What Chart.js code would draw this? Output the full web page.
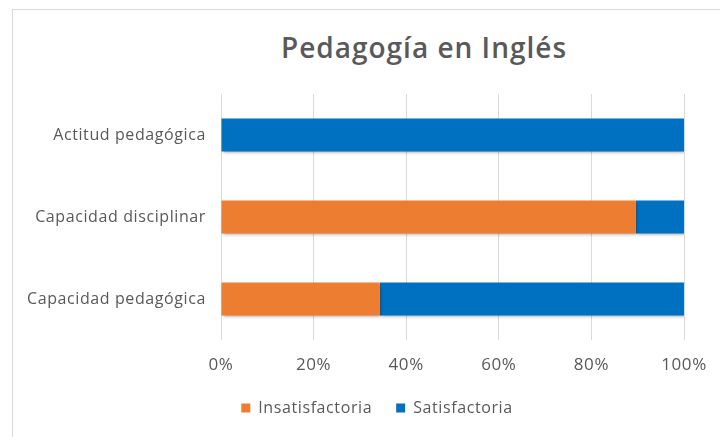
<!DOCTYPE html>
<html>
<head>
<meta charset="utf-8">
<script src="https://cdn.jsdelivr.net/npm/chart.js@4.4.1/dist/chart.umd.min.js"></script>
<style>
  html, body { margin: 0; padding: 0; background: #fff; }
  #wrap { position: relative; width: 720px; height: 437px; overflow: hidden; }
  #frame { position: absolute; left: 12px; top: 9px; width: 800px; height: 500px;
           border-left: 1px solid #d9d9d9; border-top: 1px solid #d9d9d9; }
  #title { position: absolute; left: 224px; top: 31px; width: 400px; text-align: center;
           font: 600 28px/32px "Open Sans", sans-serif; letter-spacing: 1px; color: #595959; }
  canvas { position: absolute; left: 0; top: 0; }
</style>
</head>
<body>
<div id="wrap">
  <div id="frame"></div>
  <div id="title">Pedagogía en Inglés</div>
  <canvas id="chart" width="720" height="437"></canvas>
</div>
<script>
const categories = ['Actitud pedagógica', 'Capacidad disciplinar', 'Capacidad pedagógica']
const insatisfactoria = [0, 89.6, 34.3]
const satisfactoria = [100, 10.4, 65.7]
const xTicks = [0, 20, 40, 60, 80, 100]

const gray = '#595959'
const font = '"Open Sans", sans-serif'

// soft drop shadow under the bars, like the Excel one
const barShadow = {
    id: 'barShadow',
    beforeDatasetsDraw (chart) {
        const ctx = chart.ctx
        ctx.save()
        ctx.shadowColor = 'rgba(0,0,0,0.35)'
        ctx.shadowBlur = 3
        ctx.shadowOffsetX = 1
        ctx.shadowOffsetY = 2
    },
    afterDatasetsDraw (chart) {
        chart.ctx.restore()
    }
}

// wider letters like the original, and legend centred on the whole frame
const textTweaks = {
    id: 'textTweaks',
    beforeUpdate (chart) { chart.ctx.letterSpacing = '0.6px' },
    beforeDraw (chart) { chart.ctx.letterSpacing = '0.6px' },
    afterLayout (chart) {
        chart.legend.left += 29
        chart.legend.right += 29
    }
}

const crt = document.getElementById('chart')

new Chart(crt, {
    type: 'bar',
    data: {
        labels: categories,
        datasets: [
            {
                label: 'Insatisfactoria',
                data: insatisfactoria,
                backgroundColor: '#ED7D31'
            },
            {
                label: 'Satisfactoria',
                data: satisfactoria,
                backgroundColor: '#0070C0'
            }
        ]
    },
    options: {
        indexAxis: 'y',
        responsive: false,
        animation: false,
        categoryPercentage: 1,
        barPercentage: 0.4,
        layout: { padding: { top: 94, right: 36, left: 12, bottom: 11 } },
        scales: {
            x: {
                stacked: true,
                min: 0,
                max: 100,
                afterBuildTicks: (axis) => { axis.ticks = xTicks.map(v => ({ value: v })) },
                afterFit: (s) => {
                    s.height = 36
                    s.paddingLeft = 0
                    s.paddingRight = 0
                },
                grid: { color: '#d9d9d9', drawTicks: false },
                border: { display: false },
                ticks: {
                    padding: 15,
                    color: gray,
                    font: { family: font, size: 17 },
                    callback: (v) => v + '%'
                }
            },
            y: {
                stacked: true,
                grid: { display: false, drawTicks: false },
                border: { display: false },
                afterFit: (s) => { s.width = 209 },
                ticks: {
                    padding: 15,
                    color: gray,
                    font: { family: font, size: 16 }
                }
            }
        },
        plugins: {
            title: { display: false },
            tooltip: { enabled: false },
            legend: {
                position: 'bottom',
                labels: {
                    boxWidth: 9,
                    boxHeight: 9,
                    padding: 24,
                    color: gray,
                    font: { family: font, size: 16 }
                }
            }
        }
    },
    plugins: [barShadow, textTweaks]
})
</script>
</body>
</html>
